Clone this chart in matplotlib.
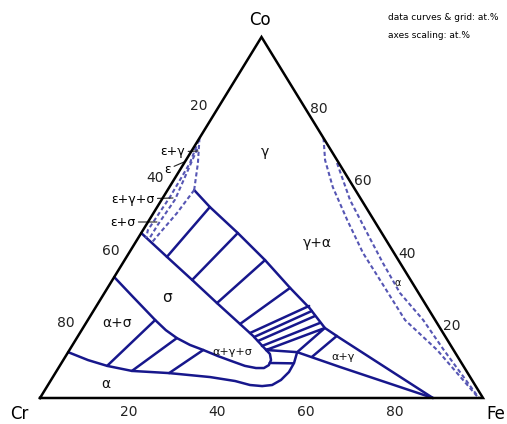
import numpy as np
import matplotlib
matplotlib.use('Agg')
import matplotlib.pyplot as plt

# compositions in at.% : (Fe, Co), Cr = 100 - Fe - Co
gamma_fe = [6.0, 11.9, 21.8, 31.7, 41.2, 48.4, 54.6, 59.4, 88.7]
gamma_co = [57.6, 52.9, 45.7, 38.2, 30.5, 24.9, 19.4, 16.6, 0.0]

sigma_top_fe = [0.0, 9.1, 18.0, 26.8, 34.9, 39.5, 44.4]
sigma_top_co = [45.7, 39.1, 32.7, 26.3, 20.5, 17.2, 13.3]

sigma_bot_fe = [0.0, 7.0, 15.2, 19.0, 22.6, 26.5, 30.2, 34.4, 38.2,
                41.8, 44.6, 46.4, 47.1, 46.9, 45.8, 44.4]
sigma_bot_co = [33.5, 28.0, 21.6, 18.8, 16.6, 14.7, 13.3, 11.6, 10.2,
                8.9, 8.3, 8.3, 9.1, 10.5, 12.2, 13.3]

alpha_fe = [0.0, 5.6, 10.7, 17.0, 25.7, 35.5, 41.7, 45.6, 48.5, 50.6, 51.9,
            52.6, 52.5, 51.7, 63.4, 88.7]
alpha_co = [12.7, 10.5, 8.9, 7.5, 6.9, 5.8, 4.7, 3.6, 3.3, 3.6, 5.0,
            7.2, 9.7, 12.7, 8.6, 0.0]

# tie lines sigma+gamma (gamma end, sigma end)
sg_gamma_fe = [11.9, 21.8, 31.7, 41.2, 48.0, 49.3, 50.7, 52.8]
sg_gamma_co = [52.9, 45.7, 38.2, 30.5, 25.5, 24.1, 22.7, 20.8]
sg_sigma_fe = [9.1, 18.0, 26.8, 34.9, 38.4, 39.9, 41.3, 42.9]
sg_sigma_co = [39.1, 32.7, 26.3, 20.5, 18.0, 16.9, 15.8, 14.4]

# tie lines alpha+sigma (alpha end, sigma end)
as_alpha_fe = [10.7, 17.0, 25.7, 52.3]
as_alpha_co = [8.9, 7.5, 6.9, 9.6]
as_sigma_fe = [15.2, 22.6, 30.2, 47.0]
as_sigma_co = [21.6, 16.6, 13.3, 9.7]

# tie line alpha+gamma
ag_gamma_fe = [58.4]
ag_gamma_co = [17.2]
ag_alpha_fe = [55.7]
ag_alpha_co = [11.4]

# three phase triangle alpha+gamma+sigma (sigma, gamma, alpha)
tri_fe = [44.4, 54.6, 51.7, 44.4]
tri_co = [13.3, 19.4, 12.7, 13.3]

# dashed curves near Co-Cr side (epsilon)
eps1_fe = [0.0, 3.1, 6.0]
eps1_co = [72.0, 65.1, 57.6]
eps2_fe = [0.1, 1.3, 1.5, 1.1, 1.8]
eps2_co = [71.5, 65.1, 55.7, 46.5, 44.3]
eps3_fe = [1.0, 2.0, 3.0, 2.6, 2.6]
eps3_co = [69.0, 62.0, 55.0, 48.0, 43.8]
eps4_fe = [6.0, 5.3, 4.2, 3.7]
eps4_co = [57.6, 51.2, 45.7, 43.0]

# dashed curves near Co-Fe side (gamma/alpha)
ga1_fe = [28.0, 31.4, 36.9, 44.7, 52.8, 60.4, 71.6, 83.0, 99.0]
ga1_co = [72.0, 65.9, 58.4, 49.3, 40.2, 32.7, 21.6, 13.3, 0.0]
ga2_fe = [34.5, 42.6, 51.0, 58.7, 66.7, 75.7, 84.5, 99.1]
ga2_co = [65.1, 54.8, 45.7, 37.4, 29.1, 21.6, 13.3, 0.0]

ticks = [20, 40, 60, 80]


def tern(fe, co):
    fe = np.asarray(fe, dtype=float)
    co = np.asarray(co, dtype=float)
    return fe + co / 2.0, co


def px(x, y):
    # reference pixel -> data coords
    return (x - 40) / 4.43, (398 - y) / 3.61


navy = '#17178c'
dash_col = '#5656b4'

fig = plt.figure(figsize=(5.07, 4.24), dpi=100)
ax = fig.add_axes([0, 0, 1, 1])
ax.set_xlim(-40 / 4.43, 467 / 4.43)
ax.set_ylim(-26 / 3.61, 398 / 3.61)
ax.axis('off')

# frame
fx, fy = tern([0, 100, 0, 0], [0, 0, 100, 0])
ax.plot(fx, fy, color='black', lw=1.8, solid_joinstyle='miter', zorder=5)

solid = dict(color=navy, lw=1.8, solid_capstyle='round', solid_joinstyle='round')
for fe, co in [(gamma_fe, gamma_co), (sigma_top_fe, sigma_top_co),
               (sigma_bot_fe, sigma_bot_co), (alpha_fe, alpha_co), (tri_fe, tri_co)]:
    ax.plot(*tern(fe, co), **solid)

for gfe, gco, sfe, sco in [(sg_gamma_fe, sg_gamma_co, sg_sigma_fe, sg_sigma_co),
                           (as_alpha_fe, as_alpha_co, as_sigma_fe, as_sigma_co),
                           (ag_gamma_fe, ag_gamma_co, ag_alpha_fe, ag_alpha_co)]:
    for a, b, c, d in zip(gfe, gco, sfe, sco):
        ax.plot(*tern([a, c], [b, d]), **solid)

dashed = dict(color=dash_col, lw=1.5, dashes=(2.0, 1.3))
for fe, co in [(eps1_fe, eps1_co), (eps2_fe, eps2_co), (eps3_fe, eps3_co),
               (eps4_fe, eps4_co), (ga1_fe, ga1_co), (ga2_fe, ga2_co)]:
    ax.plot(*tern(fe, co), **dashed)

# tick labels
tcol = '#222222'
for t in ticks:
    ax.annotate(str(t), tern(t, 0), xytext=(0, -14), textcoords='offset pixels',
                ha='center', va='center', fontsize=10, color=tcol)
    # Cr on left side
    ax.annotate(str(t), tern(0, 100 - t), xytext=(-18, 3), textcoords='offset pixels',
                ha='center', va='center', fontsize=10, color=tcol)
    # Co on right side
    ax.annotate(str(t), tern(100 - t, t), xytext=(13, 0), textcoords='offset pixels',
                ha='center', va='center', fontsize=10, color=tcol)

ax.text(*px(260, 20), 'Co', ha='center', va='center', fontsize=12)
ax.text(*px(19, 414), 'Cr', ha='center', va='center', fontsize=12)
ax.text(*px(505, 414), 'Fe', ha='right', va='center', fontsize=12)

# phase labels
lab = dict(ha='center', va='center', color='#111111')
ax.text(*px(265, 152), 'γ', fontsize=10, **lab)
ax.text(*px(317, 243), 'γ+α', fontsize=10, **lab)
ax.text(*px(398, 283), 'α', fontsize=7, **lab)
ax.text(*px(167, 298), 'σ', fontsize=11, **lab)
ax.text(*px(117, 323), 'α+σ', fontsize=10, **lab)
ax.text(*px(106, 384), 'α', fontsize=10, **lab)
ax.text(*px(232, 352), 'α+γ+σ', fontsize=8, **lab)
ax.text(*px(343, 357), 'α+γ', fontsize=8, **lab)

# epsilon labels with leaders
lead = dict(arrowstyle='-', color='#222222', lw=0.8, shrinkA=0, shrinkB=0)
ax.annotate('ε+γ', xy=px(198, 151), xytext=px(173, 152), fontsize=9,
            ha='center', va='center', arrowprops=lead)
ax.annotate('ε', xy=px(184, 162), xytext=px(168, 169), fontsize=9,
            ha='center', va='center', arrowprops=lead)
ax.annotate('ε+γ+σ', xy=px(173, 198), xytext=px(133, 199), fontsize=9,
            ha='center', va='center', arrowprops=lead)
ax.annotate('ε+σ', xy=px(157, 222), xytext=px(123, 222), fontsize=9,
            ha='center', va='center', arrowprops=lead)

fig.text(388 / 507, 1 - 18 / 424, 'data curves & grid: at.%', fontsize=6.5, va='center')
fig.text(388 / 507, 1 - 35 / 424, 'axes scaling: at.%', fontsize=6.5, va='center')

fig.savefig('out.png', dpi=100)
